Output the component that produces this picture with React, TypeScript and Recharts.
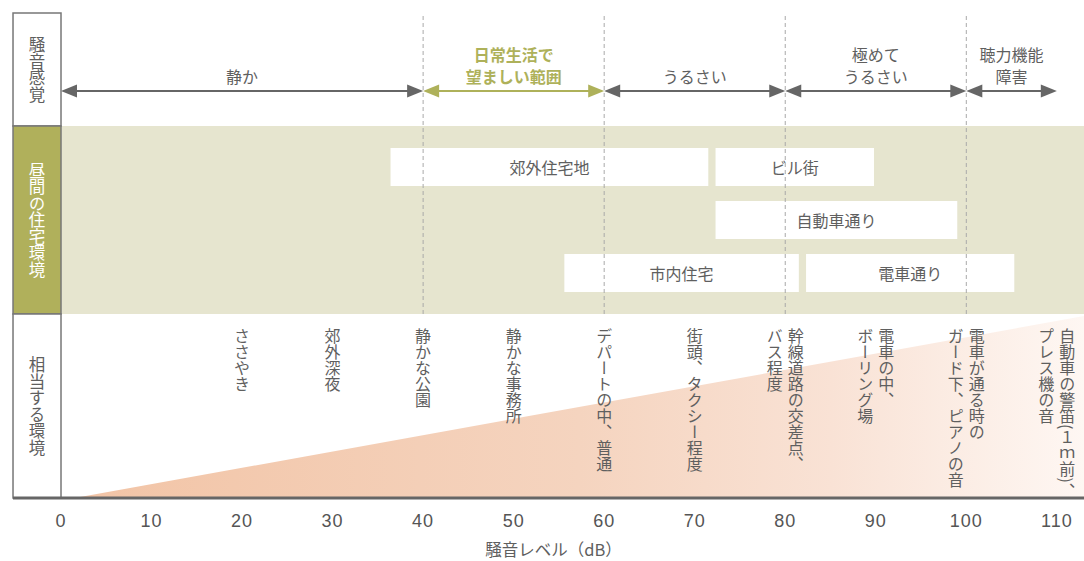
import React from 'react';
import {
  ComposedChart,
  XAxis,
  YAxis,
  Area,
  ReferenceArea,
  ReferenceLine,
  ReferenceDot,
} from 'recharts';

// ---------- data ----------
const xTicks = [0, 10, 20, 30, 40, 50, 60, 70, 80, 90, 100, 110];

const senseLabels = ['静か', '日常生活で\n望ましい範囲', 'うるさい', '極めて\nうるさい', '聴力機能\n障害'];
const senseFrom = [0, 40, 60, 80, 100];
const senseTo = [40, 60, 80, 100, 110];
const senseHighlight = [false, true, false, false, false];

const zoneNames = ['郊外住宅地', 'ビル街', '自動車通り', '市内住宅', '電車通り'];
const zoneFrom = [36.4, 72.3, 72.3, 55.6, 82.3];
const zoneTo = [71.5, 89.8, 99.0, 81.5, 105.3];
const zoneRow = [0, 0, 1, 2, 2];

const envLevels = [20, 30, 40, 50, 60, 70, 80, 90, 100, 110];
const envTexts = [
  'ささやき',
  '郊外深夜',
  '静かな公園',
  '静かな事務所',
  'デパートの中、普通',
  '街頭、タクシー程度',
  '幹線道路の交差点、\nバス程度',
  '電車の中、\nボーリング場',
  '電車が通る時の\nガード下、ピアノの音',
  '自動車の警笛(１ｍ前)、\nプレス機の音',
];

const dividerLevels = [40, 60, 80, 100];

const rowTitles = ['騒音感覚', '昼間の住宅環境', '相当する環境'];

const rampX = [1.5, 113];
const rampV = [0, 182];

const axisTitle = '騒音レベル（dB）';

// ---------- layout (chart units) ----------
const X_MIN = 0;
const X_MAX = 113;
const LABEL_LEFT = -5.3;
const Y_MAX = 485;
const BAND_BOTTOM_TOP = 184;
const BAND_MID_TOP = 372;
const ARROW_Y = 407;
const ROW_TOP = [350, 297, 244];
const ROW_BOTTOM = [312, 259, 206];
const ENV_TEXT_TOP = 170;
const AXIS_TITLE_Y = -51;

const FONT = '"Noto Sans CJK JP", "Noto Sans", sans-serif';
const GREY = '#666666';
const TEXT = '#5f5f5f';
const GREEN = '#aeb15a';
const OLIVE = '#b0b05b';
const OLIVE_LIGHT = '#e6e5cf';

const rampData = rampX.map((x, i) => ({ x, v: rampV[i] }));

function Arrow(p: any) {
  const { x, y, width, height, color, lines, bold } = p;
  const cy = y + height / 2;
  const L = 16;
  const hh = 6.5;
  const x1 = x;
  const x2 = x + width;
  return (
    <g>
      <line x1={x1 + L - 1} x2={x2 - L + 1} y1={cy} y2={cy} stroke={color} strokeWidth={2} />
      <polygon points={`${x1},${cy} ${x1 + L},${cy - hh} ${x1 + L},${cy + hh}`} fill={color} />
      <polygon points={`${x2},${cy} ${x2 - L},${cy - hh} ${x2 - L},${cy + hh}`} fill={color} />
      {lines.map((t: string, i: number) => (
        <text
          key={i}
          x={(x1 + x2) / 2}
          y={cy - 15 - (lines.length - 1 - i) * 22}
          textAnchor="middle"
          dominantBaseline="central"
          fontFamily={FONT}
          fontSize={16}
          fontWeight={bold ? 700 : 400}
          fill={bold ? GREEN : TEXT}
        >
          {t}
        </text>
      ))}
    </g>
  );
}

function Box(p: any) {
  const { x, y, width, height, label } = p;
  return (
    <g>
      <rect x={x} y={y} width={width} height={height} fill="#ffffff" />
      <text
        x={x + width / 2}
        y={y + height / 2}
        textAnchor="middle"
        dominantBaseline="central"
        fontFamily={FONT}
        fontSize={16}
        fill={TEXT}
      >
        {label}
      </text>
    </g>
  );
}

function TitleCell(p: any) {
  const { x, y, width, height, label, fill, color } = p;
  return (
    <g>
      <rect x={x} y={y} width={width} height={height} fill={fill} stroke="#777777" strokeWidth={1.5} />
      <text
        x={x + width / 2}
        y={y + height / 2}
        textAnchor="middle"
        fontFamily={FONT}
        fontSize={16.5}
        fill={color}
        style={{ writingMode: 'vertical-rl' as any }}
      >
        {label}
      </text>
    </g>
  );
}

function VText(p: any) {
  const { cx, cy, label } = p;
  const lines = label.split('\n');
  const n = lines.length;
  return (
    <g>
      {lines.map((t: string, i: number) => (
        <text
          key={i}
          x={cx + ((n - 1) / 2 - i) * 21}
          y={cy}
          textAnchor="start"
          fontFamily={FONT}
          fontSize={16}
          fill={TEXT}
          style={{ writingMode: 'vertical-rl' as any }}
        >
          {t}
        </text>
      ))}
    </g>
  );
}

function Tick(p: any) {
  const { x, y, payload } = p;
  return (
    <text
      x={x}
      y={y + 23}
      textAnchor="middle"
      dominantBaseline="central"
      fontFamily='"Liberation Sans", Arial, sans-serif'
      fontSize={18}
      letterSpacing={1}
      fill="#555555"
    >
      {payload.value}
    </text>
  );
}

export default function App() {
  return (
    <div style={{ position: 'absolute', left: 0, top: 0, width: 1084, height: 561, background: '#fff' }}>
      <ComposedChart
        width={1084}
        height={561}
        data={rampData}
        margin={{ top: 13, right: 0, bottom: 33, left: 61 }}
      >
        <defs>
          <linearGradient id="ramp" x1="0" y1="0" x2="1" y2="0">
            <stop offset="0%" stopColor="#f2c4a6" />
            <stop offset="50%" stopColor="#f5d4bf" />
            <stop offset="75%" stopColor="#f9e2d5" />
            <stop offset="100%" stopColor="#fef7f3" />
          </linearGradient>
        </defs>
        <XAxis
          dataKey="x"
          type="number"
          domain={[X_MIN, X_MAX]}
          allowDataOverflow
          ticks={xTicks}
          interval={0}
          axisLine={false}
          tickLine={false}
          tickSize={0}
          tickMargin={0}
          height={30}
          tick={<Tick />}
        />
        <YAxis type="number" domain={[0, Y_MAX]} hide allowDataOverflow />

        <ReferenceArea
          x1={X_MIN}
          x2={X_MAX}
          y1={BAND_BOTTOM_TOP}
          y2={BAND_MID_TOP}
          fill={OLIVE_LIGHT}
          fillOpacity={1}
          stroke="none"
          ifOverflow="visible"
        />

        <Area
          dataKey="v"
          type="linear"
          stroke="none"
          fill="url(#ramp)"
          fillOpacity={1}
          isAnimationActive={false}
          dot={false}
          activeDot={false}
        />

        {dividerLevels.map((d) => (
          <ReferenceLine
            key={'d' + d}
            segment={[
              { x: d, y: BAND_BOTTOM_TOP },
              { x: d, y: Y_MAX },
            ]}
            stroke="#a9a9a9"
            strokeDasharray="4 3"
            strokeWidth={1}
            ifOverflow="visible"
          />
        ))}

        {zoneNames.map((z, i) => (
          <ReferenceArea
            key={'z' + i}
            x1={zoneFrom[i]}
            x2={zoneTo[i]}
            y1={ROW_BOTTOM[zoneRow[i]]}
            y2={ROW_TOP[zoneRow[i]]}
            ifOverflow="visible"
            shape={(p: any) => <Box {...p} label={z} />}
          />
        ))}

        {senseLabels.map((s, i) => (
          <ReferenceArea
            key={'s' + i}
            x1={senseFrom[i]}
            x2={senseTo[i]}
            y1={ARROW_Y - 1}
            y2={ARROW_Y + 1}
            ifOverflow="visible"
            shape={(p: any) => (
              <Arrow
                {...p}
                color={senseHighlight[i] ? GREEN : GREY}
                bold={senseHighlight[i]}
                lines={s.split('\n')}
              />
            )}
          />
        ))}

        {envTexts.map((t, i) => (
          <ReferenceDot
            key={'e' + i}
            x={envLevels[i]}
            y={ENV_TEXT_TOP}
            r={0}
            ifOverflow="visible"
            shape={(p: any) => <VText {...p} label={t} />}
          />
        ))}

        <ReferenceArea
          x1={LABEL_LEFT}
          x2={X_MIN}
          y1={BAND_MID_TOP}
          y2={Y_MAX}
          ifOverflow="visible"
          shape={(p: any) => <TitleCell {...p} label={rowTitles[0]} fill="#ffffff" color={TEXT} />}
        />
        <ReferenceArea
          x1={LABEL_LEFT}
          x2={X_MIN}
          y1={BAND_BOTTOM_TOP}
          y2={BAND_MID_TOP}
          ifOverflow="visible"
          shape={(p: any) => <TitleCell {...p} label={rowTitles[1]} fill={OLIVE} color="#ffffff" />}
        />
        <ReferenceArea
          x1={LABEL_LEFT}
          x2={X_MIN}
          y1={0}
          y2={BAND_BOTTOM_TOP}
          ifOverflow="visible"
          shape={(p: any) => <TitleCell {...p} label={rowTitles[2]} fill="#ffffff" color={TEXT} />}
        />

        <ReferenceLine
          segment={[
            { x: LABEL_LEFT, y: 0 },
            { x: X_MAX, y: 0 },
          ]}
          stroke="#666666"
          strokeWidth={3}
          ifOverflow="visible"
        />

        <ReferenceDot
          x={54.4}
          y={AXIS_TITLE_Y}
          r={0}
          ifOverflow="visible"
          shape={(p: any) => (
            <text
              x={p.cx}
              y={p.cy}
              textAnchor="middle"
              dominantBaseline="central"
              fontFamily={FONT}
              fontSize={16.5}
              fill={TEXT}
            >
              {axisTitle}
            </text>
          )}
        />
      </ComposedChart>
    </div>
  );
}
